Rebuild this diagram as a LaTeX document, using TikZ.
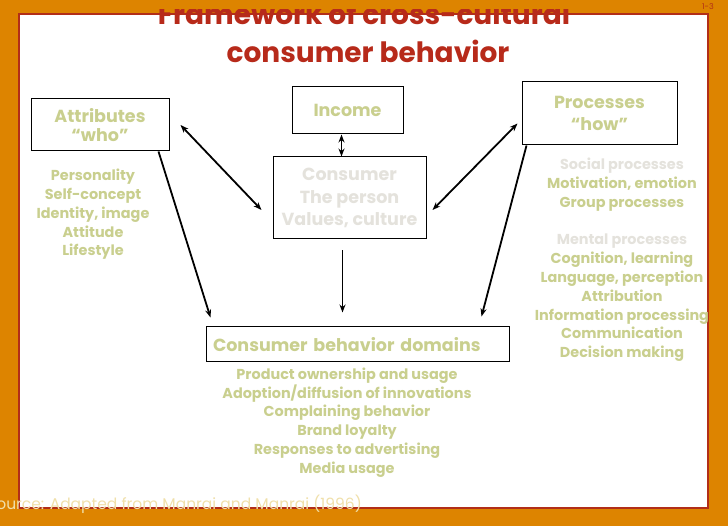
\documentclass[tikz,border=0pt]{standalone}
\usepackage{fontspec}
\setmainfont{Poppins}
\usetikzlibrary{arrows.meta, positioning, calc}
\definecolor{slide-orange}{RGB}{221, 132, 0}
\definecolor{slide-red}{RGB}{178, 46, 24}
\definecolor{title-red}{RGB}{183, 42, 26}
\definecolor{item-green}{RGB}{201, 207, 142}
\definecolor{item-grey}{RGB}{228, 226, 220}
\definecolor{src-tan}{RGB}{240, 224, 170}

\begin{document}
\begin{tikzpicture}[x=1pt, y=-1pt,
        box/.style={rectangle, draw=black, line width=1pt, fill=white,
                    inner sep=0pt, align=center, text=item-green,
                    font=\fontsize{17.5}{22.5}\selectfont\bfseries},
        list/.style={align=center, text=item-green,
                     font=\fontsize{14.4}{18.8}\selectfont\bfseries},
        title/.style={text=title-red, font=\fontsize{28}{38}\selectfont\bfseries},
        arr/.style={-{Stealth[length=8pt, width=6pt]}, line width=1.8pt},
        biarr/.style={{Stealth[length=8pt, width=6pt]}-{Stealth[length=8pt, width=6pt]}, line width=1.8pt}
      ]
        \useasboundingbox (0,0) rectangle (728,526);
        \clip (0,0) rectangle (728,526);
        \fill[slide-orange] (0,0) rectangle (728,526);
        \draw[slide-red, line width=2.5pt, fill=white] (19,14) rectangle (708,508);
        % title, its top is cut off by the frame
        \node[title, anchor=base] (title1) at (364,25) {Framework of cross-cultural};
        \node[title, anchor=base] (title2) at (368,63) {consumer behavior};
        \fill[slide-orange] (0,0) rectangle (728,9);
        \node[text=slide-red, font=\fontsize{8}{9}\selectfont] (pagenum) at (708,7) {1-3};
        % boxes
        \node[box, minimum width=138pt, minimum height=52pt,
              font=\fontsize{17.5}{18.5}\selectfont\bfseries] (attr) at (100,125) {Attributes\\“who”};
        \node[box, minimum width=111pt, minimum height=47pt] (income) at (347.5,110.5) {Income};
        \node[box, minimum width=153pt, minimum height=82pt, text=item-grey] (consumer) at (349.5,198)
          {Consumer\\The person\\Values, culture};
        \node[box, minimum width=155pt, minimum height=63pt] (proc) at (599.5,113.5) {Processes\\“how”};
        \node[box, minimum width=303pt, minimum height=35pt, text width=289pt, align=left,
              inner xsep=7pt] (domains) at (357.5,344.5) {Consumer behavior domains};
        % lists
        \node[list] (attrlist) at (93,214.5)
          {Personality\\Self-concept\\Identity, image\\Attitude\\Lifestyle};
        \node[list] (proclist) at (622,260)
          {{\color{item-grey}Social processes}\\Motivation, emotion\\Group processes\\[18.8pt]
           {\color{item-grey}Mental processes}\\Cognition, learning\\Language, perception\\Attribution\\
           Information processing\\Communication\\Decision making};
        \node[list] (domlist) at (347,422.5)
          {Product ownership and usage\\Adoption/diffusion of innovations\\Complaining behavior\\
           Brand loyalty\\Responses to advertising\\Media usage};
        % connectors
        \draw[biarr] ([xshift=11pt]attr.east) -- ([xshift=-11pt, yshift=-12pt]consumer.west);
        \draw[biarr] ([xshift=-6pt]income.south) -- ([xshift=-6pt]income.south |- consumer.north);
        \draw[biarr] ([xshift=6pt, yshift=-12pt]consumer.east) -- ([xshift=-4pt, yshift=-10pt]proc.west);
        \draw[arr] ([xshift=-7pt, yshift=-11pt]consumer.south) -- ([xshift=-15pt, yshift=14pt]domains.north);
        \draw[arr] ([xshift=-11pt]attr.south east) -- ([xshift=5pt, yshift=9pt]domains.north west);
        \draw[arr] ([xshift=5pt]proc.south west) -- ([xshift=-28pt, yshift=10pt]domains.north east);
        % source line
        \node[text=src-tan, font=\fontsize{15.5}{18}\selectfont, anchor=base east, inner sep=0pt]
          (source) at (362,509) {Source: Adapted from Manrai and Manrai (1996)};
      \end{tikzpicture}
\end{document}
